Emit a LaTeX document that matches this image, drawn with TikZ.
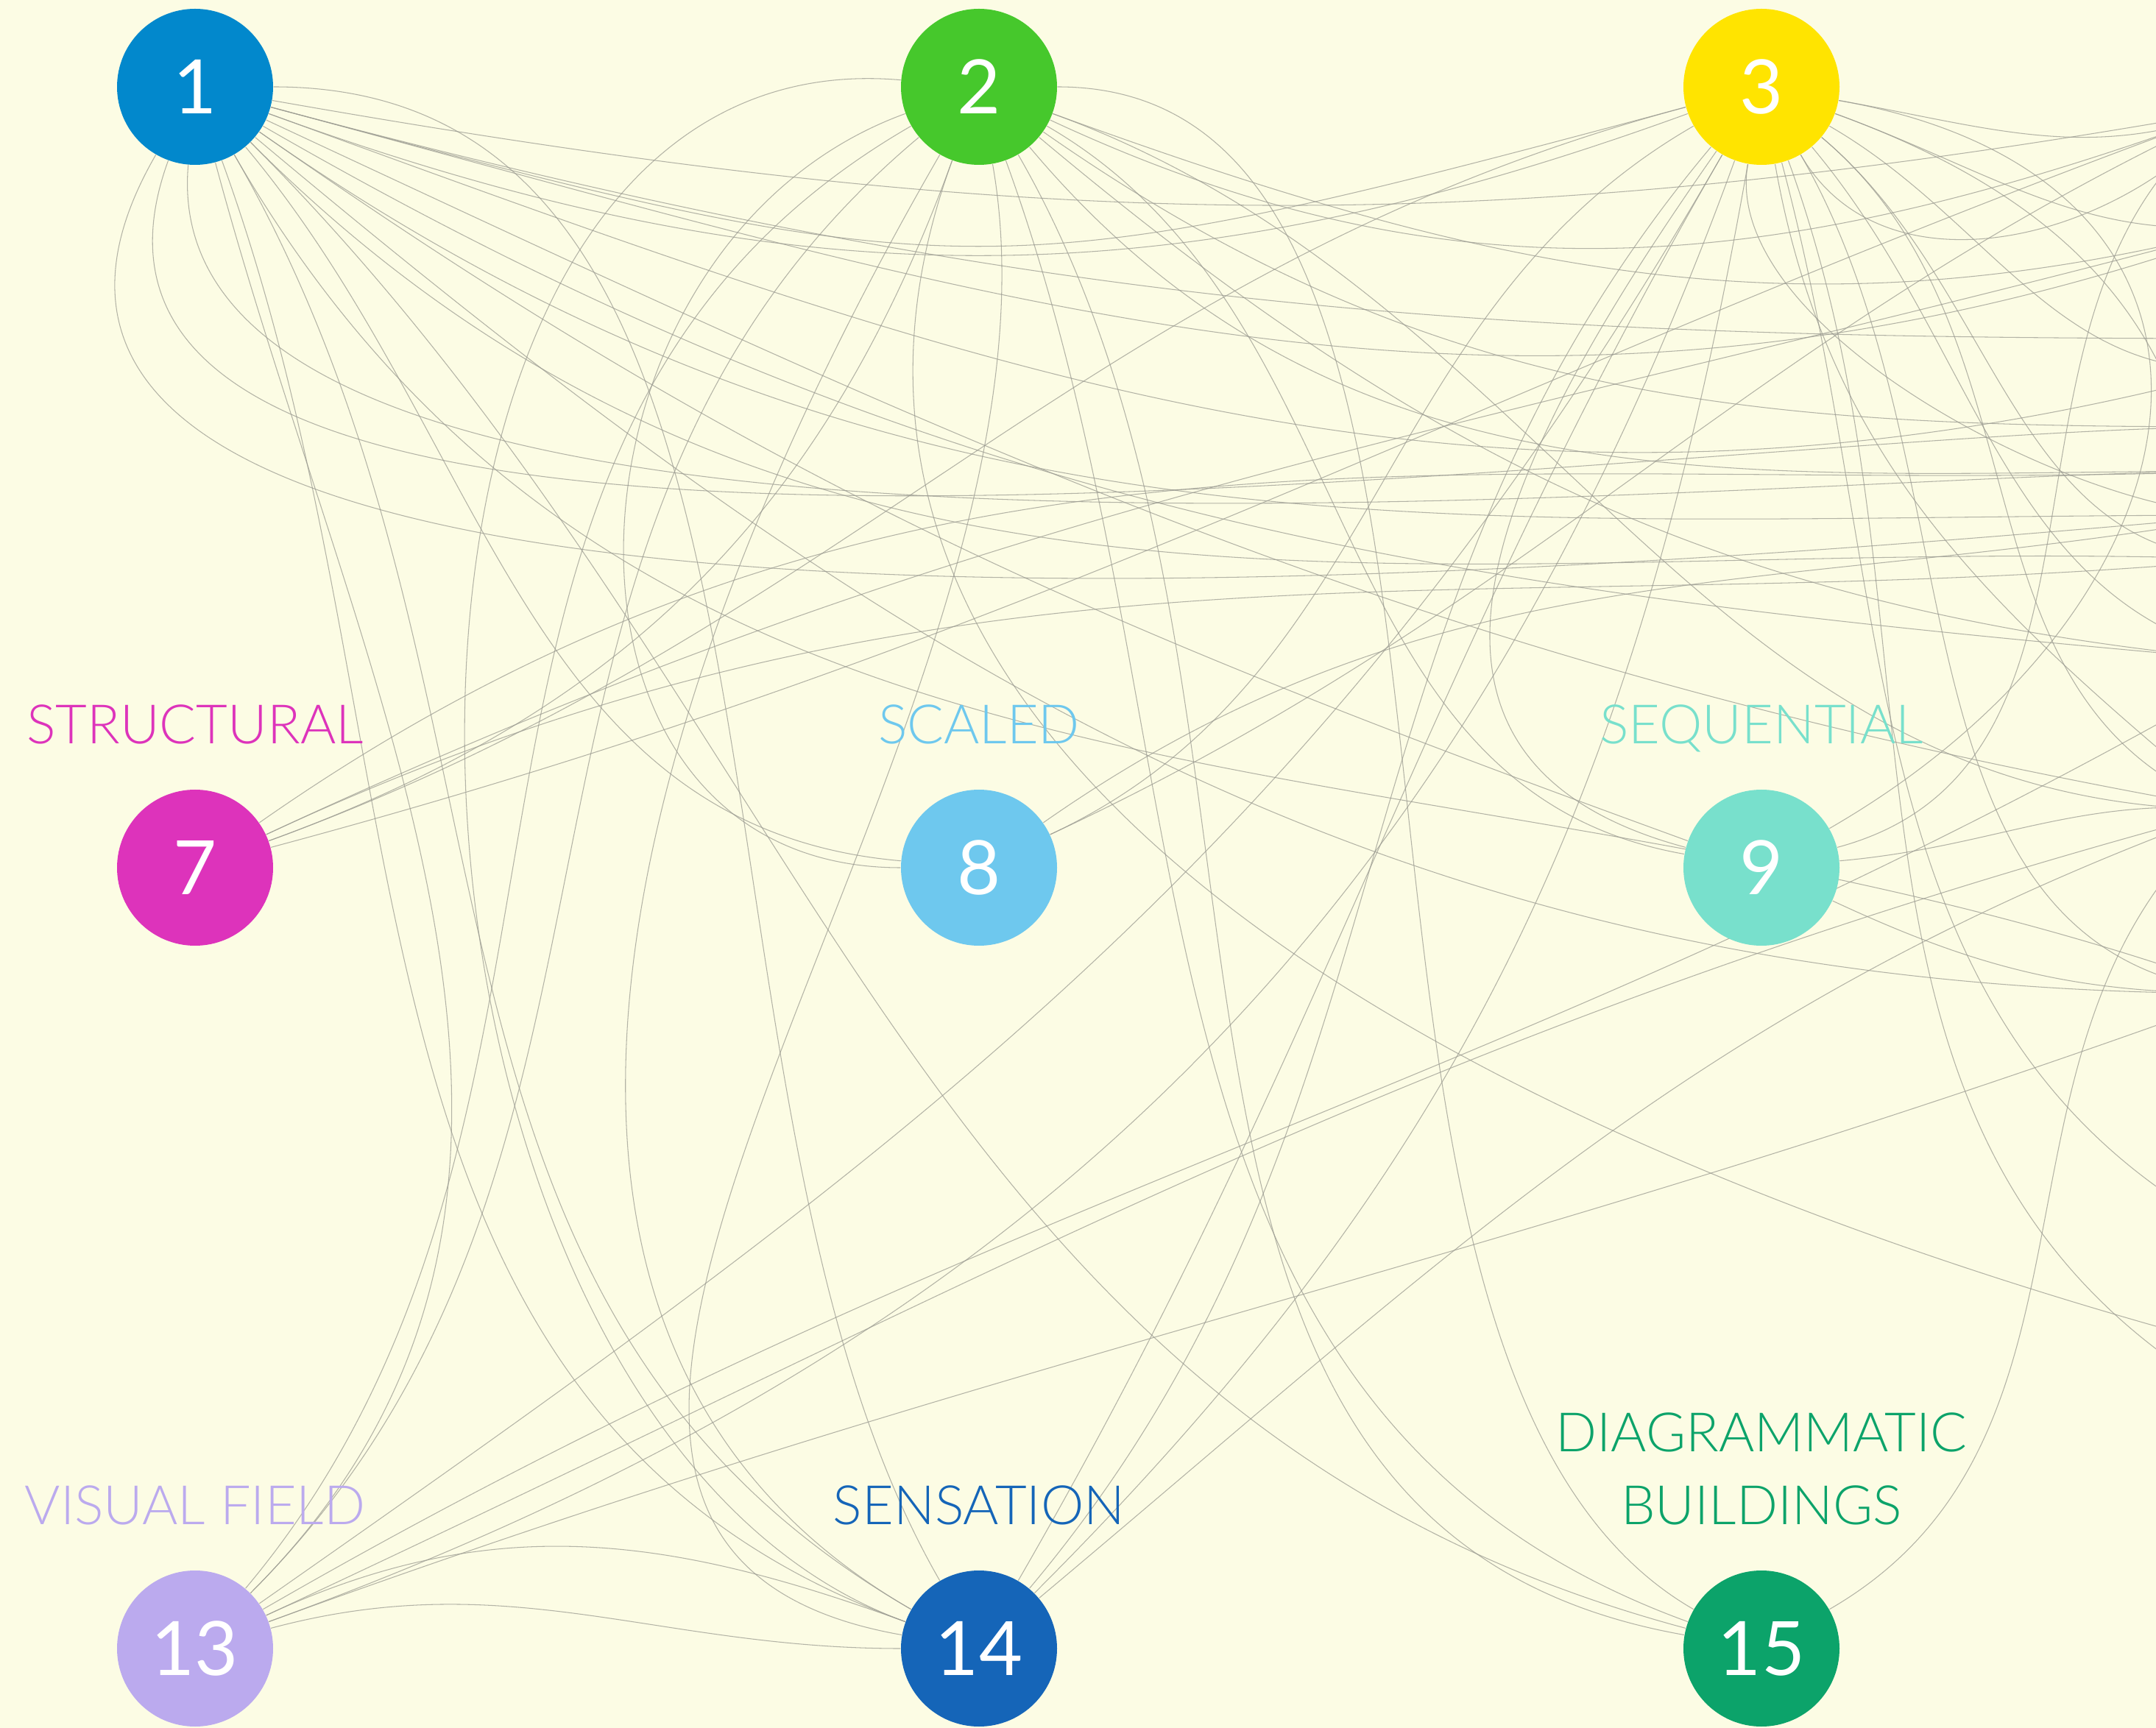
\documentclass[tikz,border=0pt]{standalone}
\usepackage{fontspec}
\setmainfont{Lato}
\newfontfamily\lightfont{Lato Light}
\usetikzlibrary{backgrounds}

\definecolor{paper}{RGB}{252,252,228}
\definecolor{wire}{RGB}{155,155,145}
\definecolor{cBlue}{RGB}{2,136,204}
\definecolor{cGreen}{RGB}{70,200,44}
\definecolor{cYellow}{RGB}{255,228,0}
\definecolor{cMagenta}{RGB}{221,51,187}
\definecolor{cSky}{RGB}{110,200,238}
\definecolor{cTeal}{RGB}{120,224,204}
\definecolor{cLavender}{RGB}{187,170,238}
\definecolor{cNavy}{RGB}{21,101,184}
\definecolor{cJade}{RGB}{12,163,106}

\tikzset{
  hub/.style={circle, minimum size=2.12cm, inner sep=0pt, text=white,
    font=\fontsize{29}{30}\selectfont},
  tag/.style={anchor=south, inner sep=0pt, text depth=0pt, align=center,
    font=\lightfont\fontsize{21}{28}\selectfont},
  link/.style={draw=wire, line width=0.3pt, opacity=0.75}
}

\begin{document}
\begin{tikzpicture}
    \useasboundingbox (0,0) rectangle (29.29,-23.48);

    % circles
    \node[hub, fill=cBlue]     (c1)  at (2.65,-1.18)   {1};
    \node[hub, fill=cGreen]    (c2)  at (13.30,-1.18)  {2};
    \node[hub, fill=cYellow]   (c3)  at (23.93,-1.18)  {3};
    \node[hub, fill=cMagenta]  (c7)  at (2.65,-11.79)  {7};
    \node[hub, fill=cSky]      (c8)  at (13.30,-11.79) {8};
    \node[hub, fill=cTeal]     (c9)  at (23.93,-11.79) {9};
    \node[hub, fill=cLavender] (c13) at (2.65,-22.40)  {13};
    \node[hub, fill=cNavy]     (c14) at (13.30,-22.40) {14};
    \node[hub, fill=cJade]     (c15) at (23.93,-22.40) {15};

    % labels
    \node[tag, text=cMagenta]  (t7)  at (2.65,-10.11)  {STRUCTURAL};
    \node[tag, text=cSky]      (t8)  at (13.30,-10.11) {SCALED};
    \node[tag, text=cTeal]     (t9)  at (23.93,-10.11) {SEQUENTIAL};
    \node[tag, text=cLavender] (t13) at (2.65,-20.72)  {VISUAL FIELD};
    \node[tag, text=cNavy]     (t14) at (13.30,-20.72) {SENSATION};
    \node[tag, text=cJade]     (t15) at (23.93,-20.72) {DIAGRAMMATIC\\BUILDINGS};

    % ends beyond the right edge
    \coordinate (f4)  at (30.3,-1.5);
    \coordinate (f5)  at (30.8,-3);
    \coordinate (f6)  at (30.5,-5);
    \coordinate (f10) at (30.3,-11);
    \coordinate (f11) at (30.8,-9);
    \coordinate (f12) at (30.5,-13.5);
    \coordinate (f16) at (30.3,-19);
    \coordinate (f17) at (30.8,-17);
    \coordinate (f18) at (30.3,-18.3);
    \coordinate (h0)  at (30.5,-4.6);
    \coordinate (h1)  at (30.5,-5.8);
    \coordinate (h2)  at (30.5,-6.4);
    \coordinate (h3)  at (30.5,-7.0);
    \coordinate (h4)  at (30.5,-7.6);

    \begin{pgfonlayer}{background}
    \fill[paper] (0,0) rectangle (29.29,-23.48);

    % from 1
    \draw[link] (c1) to[out=-10,in=190] (f4);
    \draw[link] (c1) to[out=-15,in=200] (f5);
    \draw[link] (c1) to[out=-20,in=195] (f6);
    \draw[link] (c1) to[out=-25,in=170] (f10);
    \draw[link] (c1) to[out=-30,in=175] (f11);
    \draw[link] (c1) to[out=-40,in=180] (f12);
    \draw[link] (c1) to[out=-110,in=180,looseness=0.7] (h1);
    \draw[link] (c1) to[out=-95,in=180,looseness=0.6] (h2);
    \draw[link] (c1) to[out=-120,in=185,looseness=0.8] (h3);
    \draw[link] (c1) to[out=-35,in=180] (h3);
    \draw[link] (c1) to[out=-45,in=178] (h4);
    \draw[link] (c1) to[out=-15,in=180] (h0);
    \draw[link] (c1) to[out=-70,in=160] (c14);
    \draw[link] (c1) to[out=-60,in=150] (c14);
    \draw[link] (c1) to[out=0,in=120,looseness=0.9] (c14);
    \draw[link] (c1) to[out=-45,in=165] (c15);
    \draw[link] (c1) to[out=-75,in=45] (c13);
    \draw[link] (c1) to[out=-50,in=175] (c8);
    \draw[link] (c1) to[out=-35,in=160] (c9);
    \draw[link] (c1) to[out=-60,in=160] (f12);
    \draw[link] (c1) to[out=-20,in=200] (c3);
    \draw[link] (c1) to[out=-15,in=195,looseness=1.3] (c3);

    % from 2
    \draw[link] (c2) to[out=175,in=160] (c14);
    \draw[link] (c2) to[out=210,in=50] (c13);
    \draw[link] (c2) to[out=220,in=45] (c13);
    \draw[link] (c2) to[out=200,in=180,looseness=1.3] (c8);
    \draw[link] (c2) to[out=240,in=150] (c14);
    \draw[link] (c2) to[out=-80,in=170] (c14);
    \draw[link] (c2) to[out=0,in=150,looseness=0.8] (c15);
    \draw[link] (c2) to[out=-70,in=160] (c15);
    \draw[link] (c2) to[out=-60,in=170] (c15);
    \draw[link] (c2) to[out=-30,in=170] (c9);
    \draw[link] (c2) to[out=-20,in=180] (f10);
    \draw[link] (c2) to[out=-25,in=200] (f4);
    \draw[link] (c2) to[out=-20,in=195] (f5);
    \draw[link] (c2) to[out=-40,in=175] (f11);
    \draw[link] (c2) to[out=-35,in=180] (h1);
    \draw[link] (c2) to[out=-50,in=180] (h2);
    \draw[link] (c2) to[out=-110,in=165] (f18);

    % from 3
    \draw[link] (c3) to[out=250,in=20] (c13);
    \draw[link] (c3) to[out=240,in=35] (c13);
    \draw[link] (c3) to[out=230,in=50] (c14);
    \draw[link] (c3) to[out=240,in=60] (c14);
    \draw[link] (c3) to[out=235,in=165,looseness=1.3] (c9);
    \draw[link] (c3) to[out=-10,in=30,looseness=1.6] (c9);
    \draw[link] (c3) to[out=195,in=20] (c7);
    \draw[link] (c3) to[out=210,in=25] (c8);
    \draw[link] (c3) to[out=-10,in=200] (f4);
    \draw[link] (c3) to[out=-20,in=190] (f5);
    \draw[link] (c3) to[out=-30,in=185] (f6);
    \draw[link] (c3) to[out=-40,in=160] (f10);
    \draw[link] (c3) to[out=-50,in=170] (f11);
    \draw[link] (c3) to[out=-60,in=175] (f12);
    \draw[link] (c3) to[out=-70,in=150] (f16);
    \draw[link] (c3) to[out=-75,in=155] (f17);
    \draw[link] (c3) to[out=-60,in=230] (f4);
    \draw[link] (c3) to[out=-80,in=140] (f10);
    \draw[link] (c3) to[out=-20,in=100,looseness=1.2] (f16);
    \draw[link] (c3) to[out=-100,in=180,looseness=0.7] (h3);
    \draw[link] (c3) to[out=-40,in=180] (h4);

    % from 7, 8, 9
    \draw[link] (c7) to[out=20,in=250] (c2);
    \draw[link] (c7) to[out=15,in=200] (f4);
    \draw[link] (c7) to[out=25,in=195] (f5);
    \draw[link] (c7) to[out=35,in=182] (h2);
    \draw[link] (c7) to[out=25,in=185] (h4);
    \draw[link] (c8) to[out=25,in=205] (f4);
    \draw[link] (c8) to[out=35,in=190] (h3);
    \draw[link] (c9) to[out=5,in=175] (f10);
    \draw[link] (c9) to[out=15,in=215] (f4);
    \draw[link] (c9) to[out=-25,in=180] (f12);

    % from 13, 14, 15
    \draw[link] (c13) to[out=25,in=160] (c14);
    \draw[link] (c13) to[out=15,in=180] (c14);
    \draw[link] (c13) to[out=30,in=210] (f11);
    \draw[link] (c13) to[out=25,in=195] (f10);
    \draw[link] (c13) to[out=20,in=200] (f12);
    \draw[link] (c14) to[out=40,in=200] (f10);
    \draw[link] (c14) to[out=45,in=-100] (c3);
    \draw[link] (c15) to[out=30,in=220] (f10);
    \end{pgfonlayer}
\end{tikzpicture}
\end{document}
